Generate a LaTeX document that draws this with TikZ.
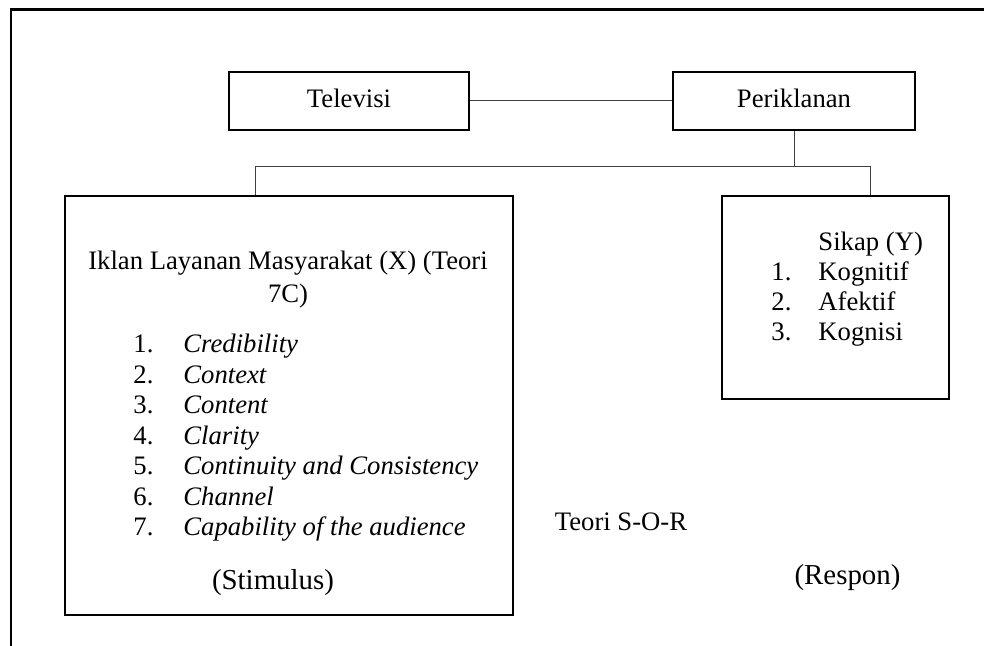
\documentclass[tikz,border=0pt]{standalone}
\usepackage{fontspec}
\setmainfont{Liberation Serif}
\begin{document}
\begin{tikzpicture}[x=0.45pt, y=-0.45pt,
	kotak/.style={draw, rectangle, line width=1pt, inner sep=0pt},
	teks/.style={inner sep=0pt, text height=8.5pt, text depth=2.5pt, font=\fontsize{12}{14}\selectfont},
	garis/.style={line width=0.45pt, black!75}]
	\useasboundingbox (0,0) rectangle (984,646);
	\draw [line width=1.2pt] (11,646) -- (11,9.5) -- (984,9.5);
	\node [kotak, teks, minimum width=108pt, minimum height=26.1pt] (televisi)   at (349,101) {Televisi};
	\node [kotak, teks, minimum width=108.9pt, minimum height=26.1pt] (periklanan) at (794,101) {Periklanan};
	\node [kotak, minimum width=201.6pt, minimum height=188.6pt] (iklan) at (289,405.5) {};
	\node [kotak, minimum width=102.2pt, minimum height=91.4pt] (sikap) at (835.5,297.5) {};
	\coordinate (cabKiri)  at (255,167);
	\coordinate (cabKanan) at (870,167);
	\draw [garis] (televisi) -- (periklanan);
	\draw [garis] (periklanan) -- (periklanan |- cabKiri);
	\draw [garis] (iklan.north -| cabKiri) -- (cabKiri) -- (cabKanan) -- (sikap.north -| cabKanan);
	\node [teks] (judul)  at (288,263) {Iklan Layanan Masyarakat (X) (Teori};
	\node [teks] (judul2) at (288,296) {7C)};
	\foreach \i/\isi in {1/Credibility, 2/Context, 3/Content, 4/Clarity, 5/Continuity and Consistency, 6/Channel, 7/Capability of the audience} {
		\node [teks, anchor=west] (no\i)  at (133,{346+30.5*(\i-1)}) {\i.};
		\node [teks, anchor=west] (isi\i) at (183,{346+30.5*(\i-1)}) {\textit{\isi}};
	}
	\node [teks, anchor=west] (sikapjudul) at (818,244) {Sikap (Y)};
	\foreach \i/\isi in {1/Kognitif, 2/Afektif, 3/Kognisi} {
		\node [teks, anchor=west] (ny\i) at (771,{244+30*\i}) {\i.};
		\node [teks, anchor=west] (y\i)  at (818,{244+30*\i}) {\isi};
	}
	\node [teks] (sor) at (621,524) {Teori S-O-R};
	\node [teks, font=\fontsize{13}{15}\selectfont] (stimulus) at (273,583) {(Stimulus)};
	\node [teks, font=\fontsize{13}{15}\selectfont] (respon)   at (847.5,578) {(Respon)};
\end{tikzpicture}
\end{document}
